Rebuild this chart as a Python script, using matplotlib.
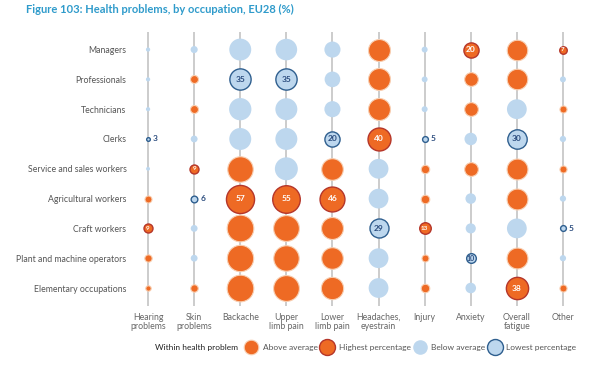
import numpy as np
import matplotlib
matplotlib.use("Agg")
import matplotlib.pyplot as plt
from matplotlib.lines import Line2D

plt.rcParams['font.family'] = ['Lato', 'DejaVu Sans']

# datos (%)
occupations = ["Managers", "Professionals", "Technicians", "Clerks",
               "Service and sales workers", "Agricultural workers",
               "Craft workers", "Plant and machine operators",
               "Elementary occupations"]
problems = ["Hearing\nproblems", "Skin\nproblems", "Backache", "Upper\nlimb pain",
            "Lower\nlimb pain", "Headaches,\neyestrain", "Injury", "Anxiety",
            "Overall\nfatigue", "Other"]

values = [
    [3.5, 6.5, 37, 36, 22, 37, 5.2, 20, 33, 7],
    [3.5, 7.6, 35, 35, 21, 37, 5.1, 17, 33, 5.2],
    [3.5, 7.6, 38, 37, 22, 37, 5.2, 17, 31, 6.5],
    [3, 6.2, 37, 37, 20, 40, 5, 14.7, 30, 5.5],
    [3.2, 9, 48, 40, 36, 31, 8.2, 17, 34, 6.5],
    [6.4, 6, 57, 55, 46, 31, 8.4, 11.4, 34, 5.5],
    [9, 6.2, 52, 49, 37, 29, 13, 10.7, 31, 5],
    [6.8, 6.2, 51, 48, 36, 31, 6.4, 10, 34, 5.5],
    [4.6, 7, 52, 49, 38, 31, 8.4, 11.4, 38, 6.5],
]
# A = above average, H = highest, B = below average, L = lowest
groups = [
    "BBBBBABHAH",
    "BALLBABAAB",
    "BABBBABABA",
    "LBBBLHLBLB",
    "BHABABAAAA",
    "ALHHHBABAB",
    "HBAAALHBBL",
    "ABAAABALAB",
    "AAAAABABHA",
]

ORANGE = "#EE6A24"
LIGHT = "#BDD7EE"
RED_EDGE = "#B5362A"
BLUE_EDGE = "#2F5F8F"
BLUE_TXT = "#2B4C7E"

fig = plt.figure(figsize=(6.03, 3.74), dpi=100)
ax = fig.add_axes([0.2073, 0.1821, 0.7645, 0.7332])
ax.set_xlim(-0.5, len(problems) - 0.5)
ax.set_ylim(len(occupations) - 1 + 0.6, -0.6)

# lineas verticales
ax.vlines(range(len(problems)), -0.6, len(occupations) - 1 + 0.6,
          color="#BFBFBF", lw=1.1, zorder=1)


def radio_pt(v):
    return (2.1 * np.sqrt(v) - 1.8) * 0.72


for i, occ in enumerate(occupations):
    for j in range(len(problems)):
        v = values[i][j]
        g = groups[i][j]
        r = radio_pt(v)
        s = (2 * r) ** 2
        if g == "A":
            ax.scatter(j, i, s=s, color=ORANGE, edgecolor="#F8CFB2", lw=0.8, zorder=3)
        elif g == "B":
            ax.scatter(j, i, s=s, color=LIGHT, edgecolor="none", zorder=3)
        elif g == "H":
            ax.scatter(j, i, s=s, color=ORANGE, edgecolor=RED_EDGE, lw=1.0, zorder=3)
            fs = 6 if v >= 15 else 4.5
            ax.text(j, i, "%d" % round(v), color="white", fontsize=fs,
                    fontweight="bold", ha="center", va="center", zorder=4)
        else:
            ax.scatter(j, i, s=s, color=LIGHT, edgecolor=BLUE_EDGE, lw=1.0, zorder=3)
            if v >= 8:
                fs = 6 if v >= 15 else 5
                ax.text(j, i, "%d" % round(v), color=BLUE_TXT, fontsize=fs,
                        fontweight="bold", ha="center", va="center", zorder=4)
            else:
                ax.annotate("%d" % round(v), (j, i), xytext=(r + 2, 0),
                            textcoords="offset points", color=BLUE_TXT,
                            fontsize=6, fontweight="bold", ha="left", va="center")

ax.set_xticks(range(len(problems)))
ax.set_xticklabels(problems, fontsize=6.3, color="#666666", linespacing=1.0)
ax.set_yticks(range(len(occupations)))
ax.set_yticklabels(occupations, fontsize=6.3, color="#555555")
ax.tick_params(length=0)
ax.tick_params(axis="x", pad=5)
ax.tick_params(axis="y", pad=-1)
for sp in ax.spines.values():
    sp.set_visible(False)

fig.text(0.043, 0.975, "Figure 103: Health problems, by occupation, EU28 (%)",
         color="#2F9BCB", fontsize=8, fontweight="bold", ha="left", va="center")

# leyenda
fig.text(0.257, 0.07, "Within health problem", fontsize=6, color="#222222",
         ha="left", va="center")
handles = [
    Line2D([], [], marker="o", ls="", ms=10.5, mfc=ORANGE, mec="#F8CFB2", mew=0.8),
    Line2D([], [], marker="o", ls="", ms=11.5, mfc=ORANGE, mec=RED_EDGE, mew=1.0),
    Line2D([], [], marker="o", ls="", ms=10.5, mfc=LIGHT, mec="none"),
    Line2D([], [], marker="o", ls="", ms=11.5, mfc=LIGHT, mec=BLUE_EDGE, mew=1.0),
]
leg = fig.legend(handles, ["Above average", "Highest percentage", "Below average",
                           "Lowest percentage"],
                 loc="center left", bbox_to_anchor=(0.41, 0.07), ncol=4,
                 frameon=False, fontsize=6, handlelength=1.0, handletextpad=0.9,
                 columnspacing=0.6, borderpad=0, borderaxespad=0)
for t in leg.get_texts():
    t.set_color("#555555")

fig.savefig("out.png", dpi=100)
